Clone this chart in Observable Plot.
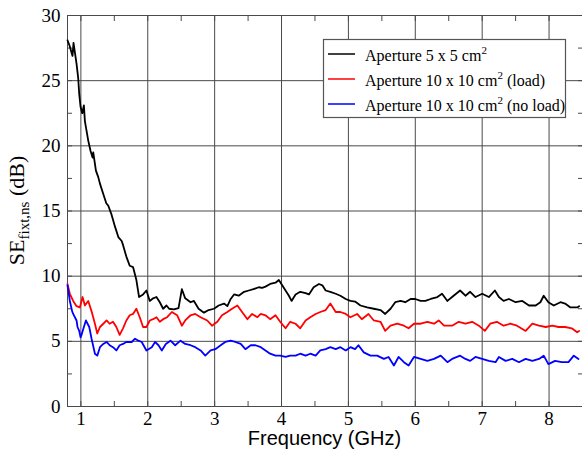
<!DOCTYPE html>
<html><head><meta charset="utf-8">
<script src="https://cdn.jsdelivr.net/npm/d3@7"></script>
<script src="https://cdn.jsdelivr.net/npm/@observablehq/plot@0.6"></script>
<style>body{margin:0;background:#fff}</style>
</head><body><div id="chart"></div>
<script>
const seriesNames = ["Aperture 5 x 5 cm2", "Aperture 10 x 10 cm2 (load)", "Aperture 10 x 10 cm2 (no load)"];
const legendMain = ["Aperture 5 x 5 cm", "Aperture 10 x 10 cm", "Aperture 10 x 10 cm"];
const legendSup = ["2", "2", "2"];
const legendSuffix = ["", " (load)", " (no load)"];
const seriesColors = ["#000000", "#ff0000", "#0000ff"];

const xDomain = [0.8, 8.5];
const yDomain = [0, 30];
const xMajor = [1, 2, 3, 4, 5, 6, 7, 8];
const xMinor = [1.5, 2.5, 3.5, 4.5, 5.5, 6.5, 7.5, 8.5];
const yMajor = [0, 5, 10, 15, 20, 25, 30];
const yMinor = [2.5, 7.5, 12.5, 17.5, 22.5, 27.5];
const yGrid = [5, 10, 15, 20, 25];
const xLabel = "Frequency (GHz)";

const freqBlack = [0.80,0.83,0.875,0.89,0.935,0.96,0.975,0.995,1.02,1.045,1.06,1.11,1.145,1.175,1.185,1.225,1.26,1.285,1.335,1.38,1.41,1.46,1.51,1.56,1.61,1.63,1.68,1.73,1.78,1.83,1.87,1.93,1.98,2.03,2.08,2.13,2.18,2.23,2.28,2.32,2.39,2.46,2.51,2.56,2.64,2.69,2.76,2.84,2.91,2.99,3.06,3.14,3.19,3.24,3.29,3.36,3.44,3.51,3.58,3.66,3.71,3.76,3.83,3.91,3.96,4.01,4.06,4.11,4.15,4.21,4.28,4.36,4.41,4.48,4.56,4.61,4.66,4.73,4.81,4.88,4.96,5.03,5.10,5.18,5.28,5.38,5.48,5.55,5.63,5.70,5.78,5.85,5.93,6.00,6.08,6.15,6.23,6.33,6.40,6.48,6.55,6.67,6.75,6.82,6.90,7.00,7.10,7.19,7.25,7.32,7.40,7.50,7.60,7.70,7.80,7.87,7.92,7.99,8.07,8.17,8.24,8.32,8.42,8.45];
const seBlack = [28.1,27.7,26.9,27.9,26.3,25.2,24.0,23.0,22.5,23.1,21.9,20.4,19.6,19.1,19.5,18.1,17.6,17.1,16.3,15.6,15.4,14.7,13.8,13.0,12.7,12.4,11.5,10.8,10.7,9.7,8.4,8.6,8.9,8.1,8.3,8.4,8.0,7.5,7.75,7.5,7.45,7.55,9.0,8.3,8.0,8.1,7.5,7.2,7.4,7.5,7.75,7.9,7.7,8.25,8.6,8.5,8.8,8.9,9.0,9.15,9.1,9.2,9.4,9.5,9.7,9.3,8.9,8.5,8.1,8.6,8.8,8.7,8.6,9.15,9.4,9.3,8.9,8.8,8.65,8.5,8.25,8.1,8.05,7.75,7.6,7.5,7.4,7.1,7.5,8.0,8.1,8.0,8.25,8.25,8.1,8.1,8.25,8.4,8.65,8.1,8.4,8.9,8.5,8.8,8.4,8.65,8.4,8.9,8.4,8.1,8.25,8.0,8.1,7.75,7.75,8.0,8.5,8.0,7.75,8.0,7.9,7.6,7.6,7.7];

const freqRed = [0.80,0.835,0.885,0.935,0.985,1.025,1.06,1.11,1.16,1.21,1.245,1.285,1.335,1.385,1.43,1.48,1.53,1.58,1.63,1.68,1.73,1.78,1.83,1.88,1.93,1.98,2.03,2.08,2.13,2.18,2.23,2.29,2.36,2.44,2.51,2.56,2.64,2.71,2.79,2.89,2.96,3.04,3.11,3.19,3.26,3.34,3.41,3.49,3.56,3.64,3.69,3.76,3.83,3.91,3.98,4.06,4.13,4.21,4.28,4.36,4.43,4.51,4.58,4.66,4.73,4.81,4.88,4.96,5.03,5.13,5.20,5.30,5.38,5.48,5.55,5.63,5.73,5.83,5.90,5.98,6.08,6.18,6.28,6.35,6.43,6.55,6.65,6.75,6.85,6.95,7.04,7.12,7.22,7.32,7.42,7.52,7.65,7.75,7.85,7.95,8.05,8.14,8.24,8.34,8.42,8.45];
const seRed = [9.4,8.65,8.1,7.7,7.6,8.4,7.75,8.1,7.3,6.35,5.6,6.1,6.35,6.6,6.35,6.5,6.1,5.5,6.0,6.6,7.0,7.1,7.5,6.85,6.1,6.1,6.6,6.7,6.85,6.5,6.7,6.85,7.25,7.0,6.2,6.6,7.0,7.1,6.85,6.6,6.2,6.5,7.0,7.25,7.5,7.75,7.25,6.7,7.1,6.85,7.1,7.0,6.7,7.0,6.5,6.0,6.5,6.35,6.0,6.6,6.85,7.1,7.25,7.4,7.9,7.25,7.25,7.1,6.85,7.1,6.7,7.1,6.6,6.5,5.8,6.2,6.35,6.2,6.0,6.35,6.35,6.5,6.35,6.6,6.2,6.2,6.5,6.35,6.5,6.2,5.8,6.35,6.5,6.2,6.35,6.2,5.8,6.35,6.2,6.1,6.2,6.1,6.1,6.0,5.7,5.8];

const freqBlue = [0.80,0.835,0.87,0.885,0.935,0.95,0.975,0.995,1.01,1.045,1.075,1.125,1.16,1.21,1.245,1.285,1.335,1.385,1.43,1.48,1.53,1.58,1.63,1.68,1.76,1.81,1.86,1.91,1.98,2.06,2.11,2.16,2.21,2.27,2.34,2.41,2.49,2.56,2.64,2.71,2.79,2.86,2.94,3.01,3.09,3.16,3.24,3.31,3.39,3.46,3.54,3.61,3.69,3.76,3.83,3.91,3.98,4.06,4.13,4.21,4.28,4.36,4.43,4.51,4.58,4.66,4.73,4.81,4.88,4.96,5.03,5.10,5.15,5.23,5.33,5.43,5.53,5.60,5.68,5.75,5.83,5.90,5.98,6.08,6.18,6.28,6.38,6.48,6.55,6.67,6.75,6.82,6.90,7.00,7.10,7.20,7.25,7.35,7.45,7.55,7.65,7.75,7.85,7.92,7.99,8.09,8.19,8.29,8.37,8.44];
const seBlue = [9.3,8.1,7.3,7.1,6.6,6.1,5.8,5.3,5.5,6.1,6.6,6.1,5.2,4.05,3.9,4.55,4.8,4.95,4.7,4.55,4.3,4.7,4.8,4.95,4.95,5.2,5.05,4.95,4.3,4.55,4.95,4.7,4.3,4.8,5.05,4.7,5.05,4.8,4.7,4.55,4.3,3.9,4.3,4.4,4.7,4.95,5.05,4.95,4.8,4.4,4.7,4.7,4.55,4.3,4.05,3.9,3.9,3.8,3.9,3.9,4.05,3.9,4.05,3.9,4.3,4.4,4.55,4.4,4.55,4.3,4.55,4.4,4.7,4.15,3.9,3.9,3.65,3.8,3.15,3.8,3.4,3.15,3.8,3.65,3.5,3.65,3.9,3.4,3.65,3.9,3.65,3.5,3.8,3.65,3.5,3.4,3.8,3.5,3.65,3.4,3.65,3.5,3.65,3.9,3.25,3.5,3.4,3.4,3.9,3.65];

const seriesFreq = [freqBlack, freqRed, freqBlue];
const seriesVals = [seBlack, seRed, seBlue];
const rows = seriesNames.flatMap((name, i) =>
  seriesFreq[i].map((f, j) => ({series: name, f, v: seriesVals[i][j]})));

const gridColor = "#4a4a4a";
const serif = "'Liberation Serif', 'Times New Roman', serif";

const chart = Plot.plot({
  width: 582,
  height: 454,
  marginLeft: 67,
  marginRight: 0,
  marginTop: 15,
  marginBottom: 48,
  style: {fontFamily: serif, background: "#fff", color: "#000"},
  x: {domain: xDomain, label: null},
  y: {domain: yDomain, label: null},
  color: {domain: seriesNames, range: seriesColors},
  marks: [
    Plot.gridX(xMajor, {stroke: gridColor, strokeOpacity: 1, strokeWidth: 1}),
    Plot.gridY(yGrid, {stroke: gridColor, strokeOpacity: 1, strokeWidth: 1}),
    Plot.ruleY([yDomain[0], yDomain[1]], {stroke: gridColor, strokeWidth: 1}),
    Plot.ruleX([xDomain[0]], {stroke: gridColor, strokeWidth: 1}),
    Plot.axisX({ticks: xMinor.concat(xMajor), anchor: "bottom", tickSize: 5, dy: -5, fill: "none", stroke: gridColor, label: null}),
    Plot.axisX({ticks: xMinor.concat(xMajor), anchor: "top", tickSize: 5, dy: 5, fill: "none", stroke: gridColor, label: null}),
    Plot.axisY({ticks: yMinor.concat(yMajor), anchor: "left", tickSize: 5, dx: 5, fill: "none", stroke: gridColor, label: null}),
    Plot.axisY({ticks: yMinor.concat(yMajor), anchor: "right", tickSize: 5, dx: -5, fill: "none", stroke: gridColor, label: null}),
    Plot.axisX({ticks: xMajor, anchor: "bottom", tickSize: 0, tickPadding: 5, fontSize: 19, fill: "#000", label: null}),
    Plot.axisY({ticks: yMajor, anchor: "left", tickSize: 0, tickPadding: 7, fontSize: 19, fill: "#000", label: null}),
    Plot.line(rows, {x: "f", y: "v", z: "series", stroke: "series", strokeWidth: 1.8})
  ]
});
document.getElementById("chart").appendChild(chart);

const svg = d3.select(chart);
const xs = chart.scale("x"), ys = chart.scale("y");
const cx = (xs.range[0] + xs.range[1]) / 2;
const cy = (ys.range[0] + ys.range[1]) / 2;

// x label
svg.append("text")
  .attr("x", cx).attr("y", 445)
  .attr("text-anchor", "middle")
  .attr("font-family", "'Liberation Sans', Arial, sans-serif")
  .attr("font-size", 20)
  .attr("fill", "#000")
  .text(xLabel);

// y label with subscript
const yl = svg.append("text")
  .attr("transform", `translate(24,${cy}) rotate(-90)`)
  .attr("text-anchor", "middle")
  .attr("font-family", serif)
  .attr("font-size", 22)
  .attr("fill", "#000");
yl.append("tspan").text("SE");
yl.append("tspan").attr("dy", 5).attr("font-size", 15).text("fixt,ns");
yl.append("tspan").attr("dy", -5).text(" (dB)");

// legend
const lg = svg.append("g");
lg.append("rect").attr("x", 323.5).attr("y", 39.5).attr("width", 242).attr("height", 78)
  .attr("fill", "#fff").attr("stroke", "#555").attr("stroke-width", 1.2);
seriesNames.forEach((name, i) => {
  const y = 54 + i * 25;
  lg.append("line").attr("x1", 328).attr("x2", 355).attr("y1", y).attr("y2", y)
    .attr("stroke", seriesColors[i]).attr("stroke-width", 1.5);
  const t = lg.append("text").attr("x", 365).attr("y", y + 7)
    .attr("text-anchor", "start")
    .attr("font-family", serif).attr("font-size", 16).attr("fill", "#000");
  t.append("tspan").text(legendMain[i]);
  t.append("tspan").attr("dy", -7).attr("font-size", 11).text(legendSup[i]);
  if (legendSuffix[i]) t.append("tspan").attr("dy", 7).attr("font-size", 16).text(legendSuffix[i]);
});
</script>
</body></html>
